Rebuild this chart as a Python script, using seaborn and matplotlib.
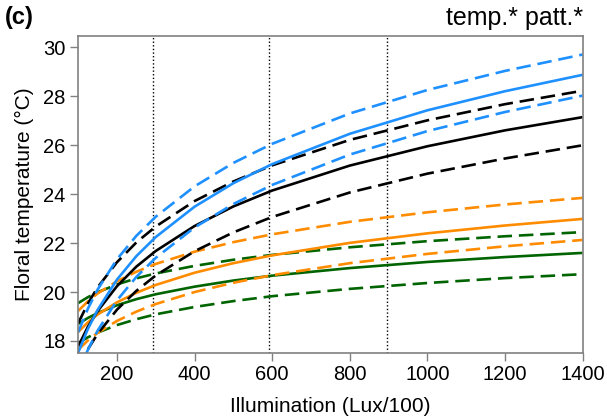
import numpy as np
import pandas as pd
import matplotlib
matplotlib.use("Agg")
import matplotlib.pyplot as plt
import seaborn as sns

# Illumination (Lux/100)
illum = [100, 125, 150, 200, 250, 300, 400, 500, 600, 800, 1000, 1200, 1400]

blue_upper = [18.36, 19.32, 20.10, 21.34, 22.30, 23.08, 24.32, 25.28, 26.06, 27.30, 28.26, 29.04, 29.71]
blue_mean = [17.53, 18.49, 19.27, 20.51, 21.47, 22.25, 23.49, 24.45, 25.23, 26.47, 27.43, 28.21, 28.88]
blue_lower = [16.68, 17.64, 18.42, 19.66, 20.62, 21.40, 22.64, 23.60, 24.38, 25.62, 26.58, 27.36, 28.03]

black_upper = [18.73, 19.53, 20.19, 21.22, 22.03, 22.68, 23.72, 24.52, 25.18, 26.22, 27.02, 27.68, 28.23]
black_mean = [17.78, 18.58, 19.22, 20.24, 21.04, 21.68, 22.70, 23.50, 24.15, 25.17, 25.96, 26.61, 27.15]
black_lower = [16.89, 17.66, 18.29, 19.28, 20.05, 20.68, 21.67, 22.44, 23.07, 24.07, 24.84, 25.46, 26.00]

orange_upper = [19.23, 19.62, 19.94, 20.44, 20.83, 21.15, 21.65, 22.04, 22.36, 22.87, 23.26, 23.58, 23.85]
orange_mean = [18.37, 18.76, 19.08, 19.58, 19.97, 20.29, 20.79, 21.18, 21.50, 22.01, 22.40, 22.72, 22.99]
orange_lower = [17.64, 18.02, 18.33, 18.82, 19.20, 19.51, 20.00, 20.38, 20.69, 21.18, 21.56, 21.87, 22.13]

green_upper = [19.55, 19.79, 19.99, 20.31, 20.56, 20.76, 21.07, 21.32, 21.52, 21.83, 22.08, 22.28, 22.45]
green_mean = [18.70, 18.94, 19.14, 19.46, 19.71, 19.91, 20.22, 20.47, 20.67, 20.98, 21.23, 21.43, 21.60]
green_lower = [17.91, 18.15, 18.34, 18.65, 18.89, 19.09, 19.39, 19.63, 19.83, 20.13, 20.37, 20.57, 20.73]

vlines = [293, 592, 896]
x_ticks = [200, 400, 600, 800, 1000, 1200, 1400]
y_ticks = [18, 20, 22, 24, 26, 28, 30]

sns.set_style("ticks")
plt.rcParams['font.family'] = ['Liberation Sans', 'DejaVu Sans']

fig = plt.figure(figsize=(6.07, 4.18), dpi=100)
ax = fig.add_axes([0.1288, 0.1562, 0.9598 - 0.1288, 0.9146 - 0.1562])

groups = [
    ("green", "#006400", green_upper, green_mean, green_lower),
    ("orange", "#FF8C00", orange_upper, orange_mean, orange_lower),
    ("black", "#000000", black_upper, black_mean, black_lower),
    ("blue", "#1E90FF", blue_upper, blue_mean, blue_lower),
]

lw = 1.9
for name, col, up, mean, lo in groups:
    for vals, kind in [(up, "dash"), (lo, "dash"), (mean, "solid")]:
        df = pd.DataFrame({"x": illum, "y": vals})
        sns.lineplot(data=df, x="x", y="y", ax=ax, color=col, linewidth=lw,
                     estimator=None, sort=True)
        line = ax.lines[-1]
        if kind == "dash":
            line.set_dashes([5.5, 2.6])
        line.set_solid_capstyle("butt")

for v in vlines:
    ax.axvline(v, color="black", linestyle=(0, (1, 1.6)), linewidth=1.0, zorder=0)

ax.set_xlim(100, 1400)
ax.set_ylim(17.52, 30.48)
ax.set_xticks(x_ticks)
ax.set_yticks(y_ticks)
ax.tick_params(axis="both", labelsize=14.5, length=6, width=1, color="#808080",
               labelcolor="black", direction="out", pad=3)
for sp in ax.spines.values():
    sp.set_visible(True)
    sp.set_color("#808080")
    sp.set_linewidth(1.2)

ax.set_xlabel("Illumination (Lux/100)", fontsize=15, labelpad=9, color="black")
ax.set_ylabel("Floral temperature (°C)", fontsize=15, labelpad=7, color="black")

fig.text(0.008, 0.957, "(c)", fontsize=17, fontweight="bold", ha="left", va="center",
         color="black")
fig.text(0.9605, 0.957, "temp.* patt.*", fontsize=18, ha="right", va="center",
         color="black")

fig.savefig("out.png", dpi=100)
